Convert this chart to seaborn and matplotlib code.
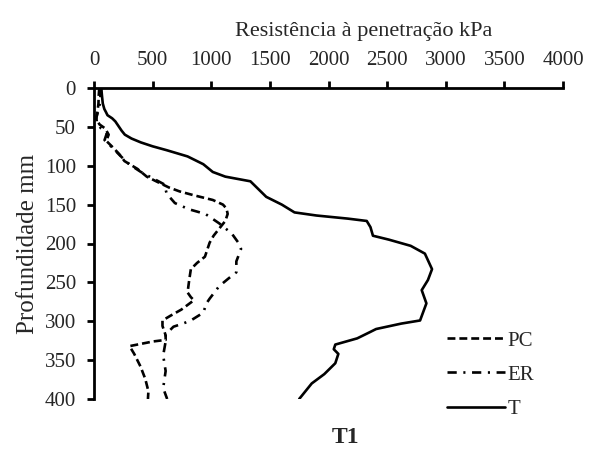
import matplotlib
matplotlib.use('Agg')
import matplotlib.pyplot as plt
import seaborn as sns
import pandas as pd
from matplotlib.lines import Line2D

# Resistance profiles (depth in mm, resistance in kPa)
pc_depth = [0, 10, 20, 30, 40, 47, 52, 60, 68, 77, 85, 94, 104, 114, 122, 128, 133, 138,
            144, 150, 155, 162, 171, 181, 190, 199, 217, 225, 233, 247, 263, 269, 273,
            285, 293, 299, 306, 318, 324, 326, 332, 342, 358, 374, 390, 400]
pc_kpa = [45, 40, 38, 30, 18, 48, 95, 125, 105, 165, 215, 260, 370, 450, 557, 640, 730, 852,
          1013, 1100, 1130, 1140, 1120, 1067, 1020, 986, 946, 879, 826, 812, 798, 826, 852,
          745, 651, 584, 584, 611, 611, 504, 303, 343, 396, 437, 464, 460]

er_depth = [0, 10, 20, 30, 38, 45, 52, 58, 67, 78, 88, 98, 108, 116, 124, 136, 148, 156,
            162, 174, 187, 201, 207, 223, 237, 245, 255, 271, 277, 289, 299, 303, 307,
            317, 326, 344, 364, 386, 400]
er_kpa = [60, 55, 50, 35, 20, 25, 60, 110, 90, 165, 230, 300, 400, 500, 600, 620, 690, 810,
          950, 1067, 1174, 1241, 1254, 1214, 1214, 1147, 1067, 986, 959, 932, 826, 758, 678,
          611, 611, 590, 611, 590, 624]

t_depth = [0, 10, 20, 27, 31, 35, 39, 43, 49, 55, 60, 65, 70, 75, 80, 88, 98, 108, 114,
           120, 128, 140, 150, 160, 164, 168, 171, 179, 190, 195, 203, 213, 233, 247, 260,
           277, 299, 303, 310, 314, 322, 330, 336, 342, 354, 368, 380, 400]
t_kpa = [62, 68, 75, 88, 102, 115, 155, 182, 209, 236, 263, 320, 400, 500, 620, 798, 932,
         1013, 1120, 1334, 1388, 1469, 1602, 1710, 1897, 2165, 2326, 2358, 2379, 2514, 2701,
         2822, 2883, 2848, 2795, 2835, 2781, 2621, 2406, 2353, 2245, 2058, 2045, 2084, 2058,
         1964, 1857, 1750]

series_names = ['PC', 'ER', 'T']
x_ticks = [0, 500, 1000, 1500, 2000, 2500, 3000, 3500, 4000]
y_ticks = [0, 50, 100, 150, 200, 250, 300, 350, 400]


def setup_plot_style():
    """Setup matplotlib style"""
    sns.set_theme(style='white')
    plt.rcParams['font.family'] = ['Liberation Serif', 'DejaVu Serif']
    plt.rcParams['font.size'] = 15


def build_frame():
    """Long table for seaborn"""
    parts = []
    for name, depth, kpa in [('PC', pc_depth, pc_kpa), ('ER', er_depth, er_kpa), ('T', t_depth, t_kpa)]:
        parts.append(pd.DataFrame({'serie': name, 'depth': depth, 'kpa': kpa}))
    return pd.concat(parts, ignore_index=True)


def plot_profile(df):
    fig = plt.figure(figsize=(6.16, 4.51), dpi=100)
    ax = fig.add_axes([94 / 616, 1 - 399 / 451, (563 - 94) / 616, (399 - 88) / 451])

    lw = 1.9
    dashes = {'PC': (3, 1.5), 'ER': (3.5, 2.5, 0.8, 2.5), 'T': ''}
    palette = {name: 'black' for name in series_names}
    sns.lineplot(data=df, x='kpa', y='depth', hue='serie', style='serie',
                 hue_order=series_names, style_order=series_names,
                 palette=palette, dashes=dashes, sort=False, estimator=None,
                 linewidth=lw, legend=False, ax=ax)

    ax.set_xlim(0, 4000)
    ax.set_ylim(400, 0)
    ax.set_xticks(x_ticks)
    ax.set_yticks(y_ticks)
    ax.xaxis.tick_top()
    ax.xaxis.set_label_position('top')
    ax.set_xlabel('Resistência à penetração kPa', fontsize=16, labelpad=11, x=0.575)
    ax.set_ylabel('Profundidade mm', fontsize=18, labelpad=4)

    for side in ['right', 'bottom']:
        ax.spines[side].set_visible(False)
    for side in ['left', 'top']:
        ax.spines[side].set_linewidth(2)
        ax.spines[side].set_color('black')
    ax.tick_params(axis='both', direction='out', length=5, width=2, color='black',
                   labelsize=15, pad=8)
    ax.tick_params(axis='x', top=True, bottom=False)
    ax.tick_params(axis='y', left=True)

    # Legend
    handles = []
    for name in series_names:
        ls = (0, dashes[name]) if dashes[name] else '-'
        handles.append(Line2D([], [], color='black', linewidth=lw, linestyle=ls))
    fig.legend(handles, series_names, loc='upper left',
               bbox_to_anchor=(447 / 616, 1 - 331 / 451), frameon=False,
               handlelength=2.8, handletextpad=0.1, labelspacing=0.7,
               borderpad=0, borderaxespad=0, fontsize=15)

    fig.text(346 / 616, 3 / 451, 'T1', ha='center', va='bottom', fontsize=17,
             fontweight='bold')

    fig.savefig('out.png', dpi=100)
    plt.close(fig)


if __name__ == '__main__':
    setup_plot_style()
    plot_profile(build_frame())
